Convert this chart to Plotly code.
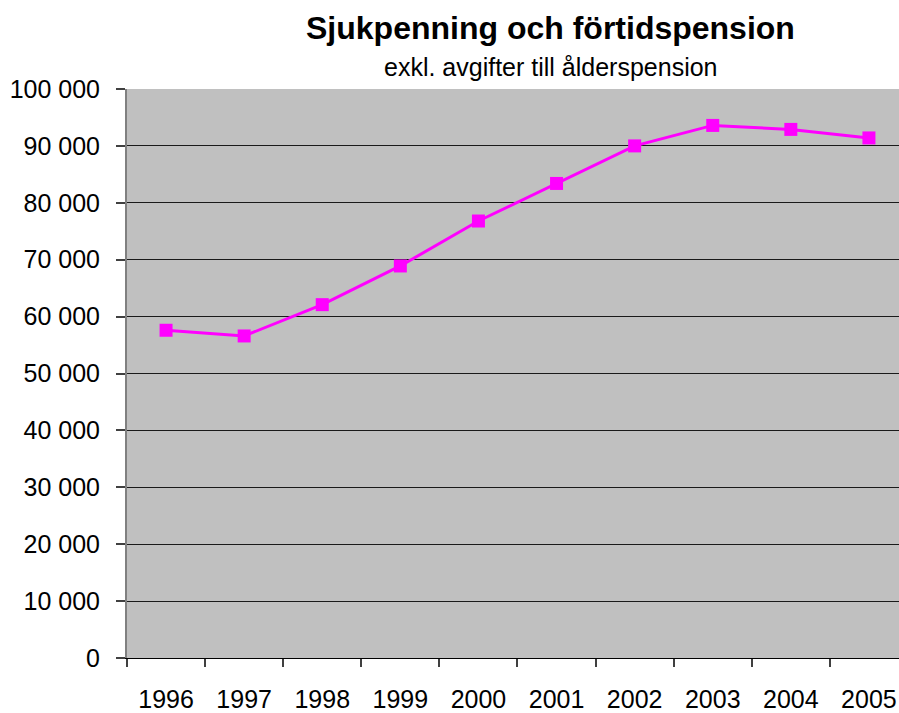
import plotly.graph_objects as go

years = ["1996", "1997", "1998", "1999", "2000", "2001", "2002", "2003", "2004", "2005"]
values = [57600, 56600, 62100, 68900, 76800, 83400, 90000, 93600, 92900, 91400]
y_ticks = list(range(0, 100001, 10000))

L, R, T, B = 127, 0, 89, 52
W, H = 899, 713

fig = go.Figure()
fig.add_trace(go.Scatter(
    x=list(range(len(years))), y=values, mode="lines+markers",
    line=dict(color="#FF00FF", width=3),
    marker=dict(symbol="square", size=13, color="#FF00FF"),
    showlegend=False, cliponaxis=False,
))

plot_w = W - L - R
plot_h = H - T - B

def px_x(px):
    return (px - L) / plot_w

def px_y(py):
    return 1 + (T - py) / plot_h

fig.update_layout(
    width=W, height=H,
    margin=dict(l=L, r=R, t=T, b=B),
    paper_bgcolor="white", plot_bgcolor="#C0C0C0",
    separators=". ",
    font=dict(family="Liberation Sans, Arial, sans-serif", color="black"),
    xaxis=dict(
        range=[-0.5, 9.385], tickmode="array",
        tickvals=list(range(len(years))), ticktext=years,
        showgrid=False, zeroline=False,
        showline=True, linecolor="black", linewidth=1,
        ticks="", tickfont=dict(size=25), ticklabelstandoff=19,
        minor=dict(ticks="outside", tickmode="array",
                   tickvals=[i - 0.5 for i in range(len(years) + 1)],
                   ticklen=8, tickcolor="#404040", tickwidth=1.5, showgrid=False),
    ),
    yaxis=dict(
        range=[0, 100000], tickmode="array", tickvals=y_ticks,
        tickformat=",d", showgrid=True, gridcolor="#1a1a1a", gridwidth=1,
        zeroline=False, showline=True, linecolor="#808080", linewidth=2,
        ticks="outside", ticklen=9, tickcolor="#404040", tickwidth=1.5,
        tickfont=dict(size=25), ticklabelstandoff=11,
    ),
    annotations=[
        dict(text="<b>Sjukpenning och förtidspension</b>", x=px_x(550), y=px_y(28),
             xref="paper", yref="paper",
             xanchor="center", yanchor="middle", showarrow=False,
             font=dict(size=32)),
        dict(text="exkl. avgifter till ålderspension", x=px_x(551), y=px_y(67),
             xref="paper", yref="paper",
             xanchor="center", yanchor="middle", showarrow=False,
             font=dict(size=25)),
    ],
)

fig.write_html("out.html", config={"displayModeBar": False},
               post_script="document.body.style.margin='0';document.body.style.overflow='hidden';")
